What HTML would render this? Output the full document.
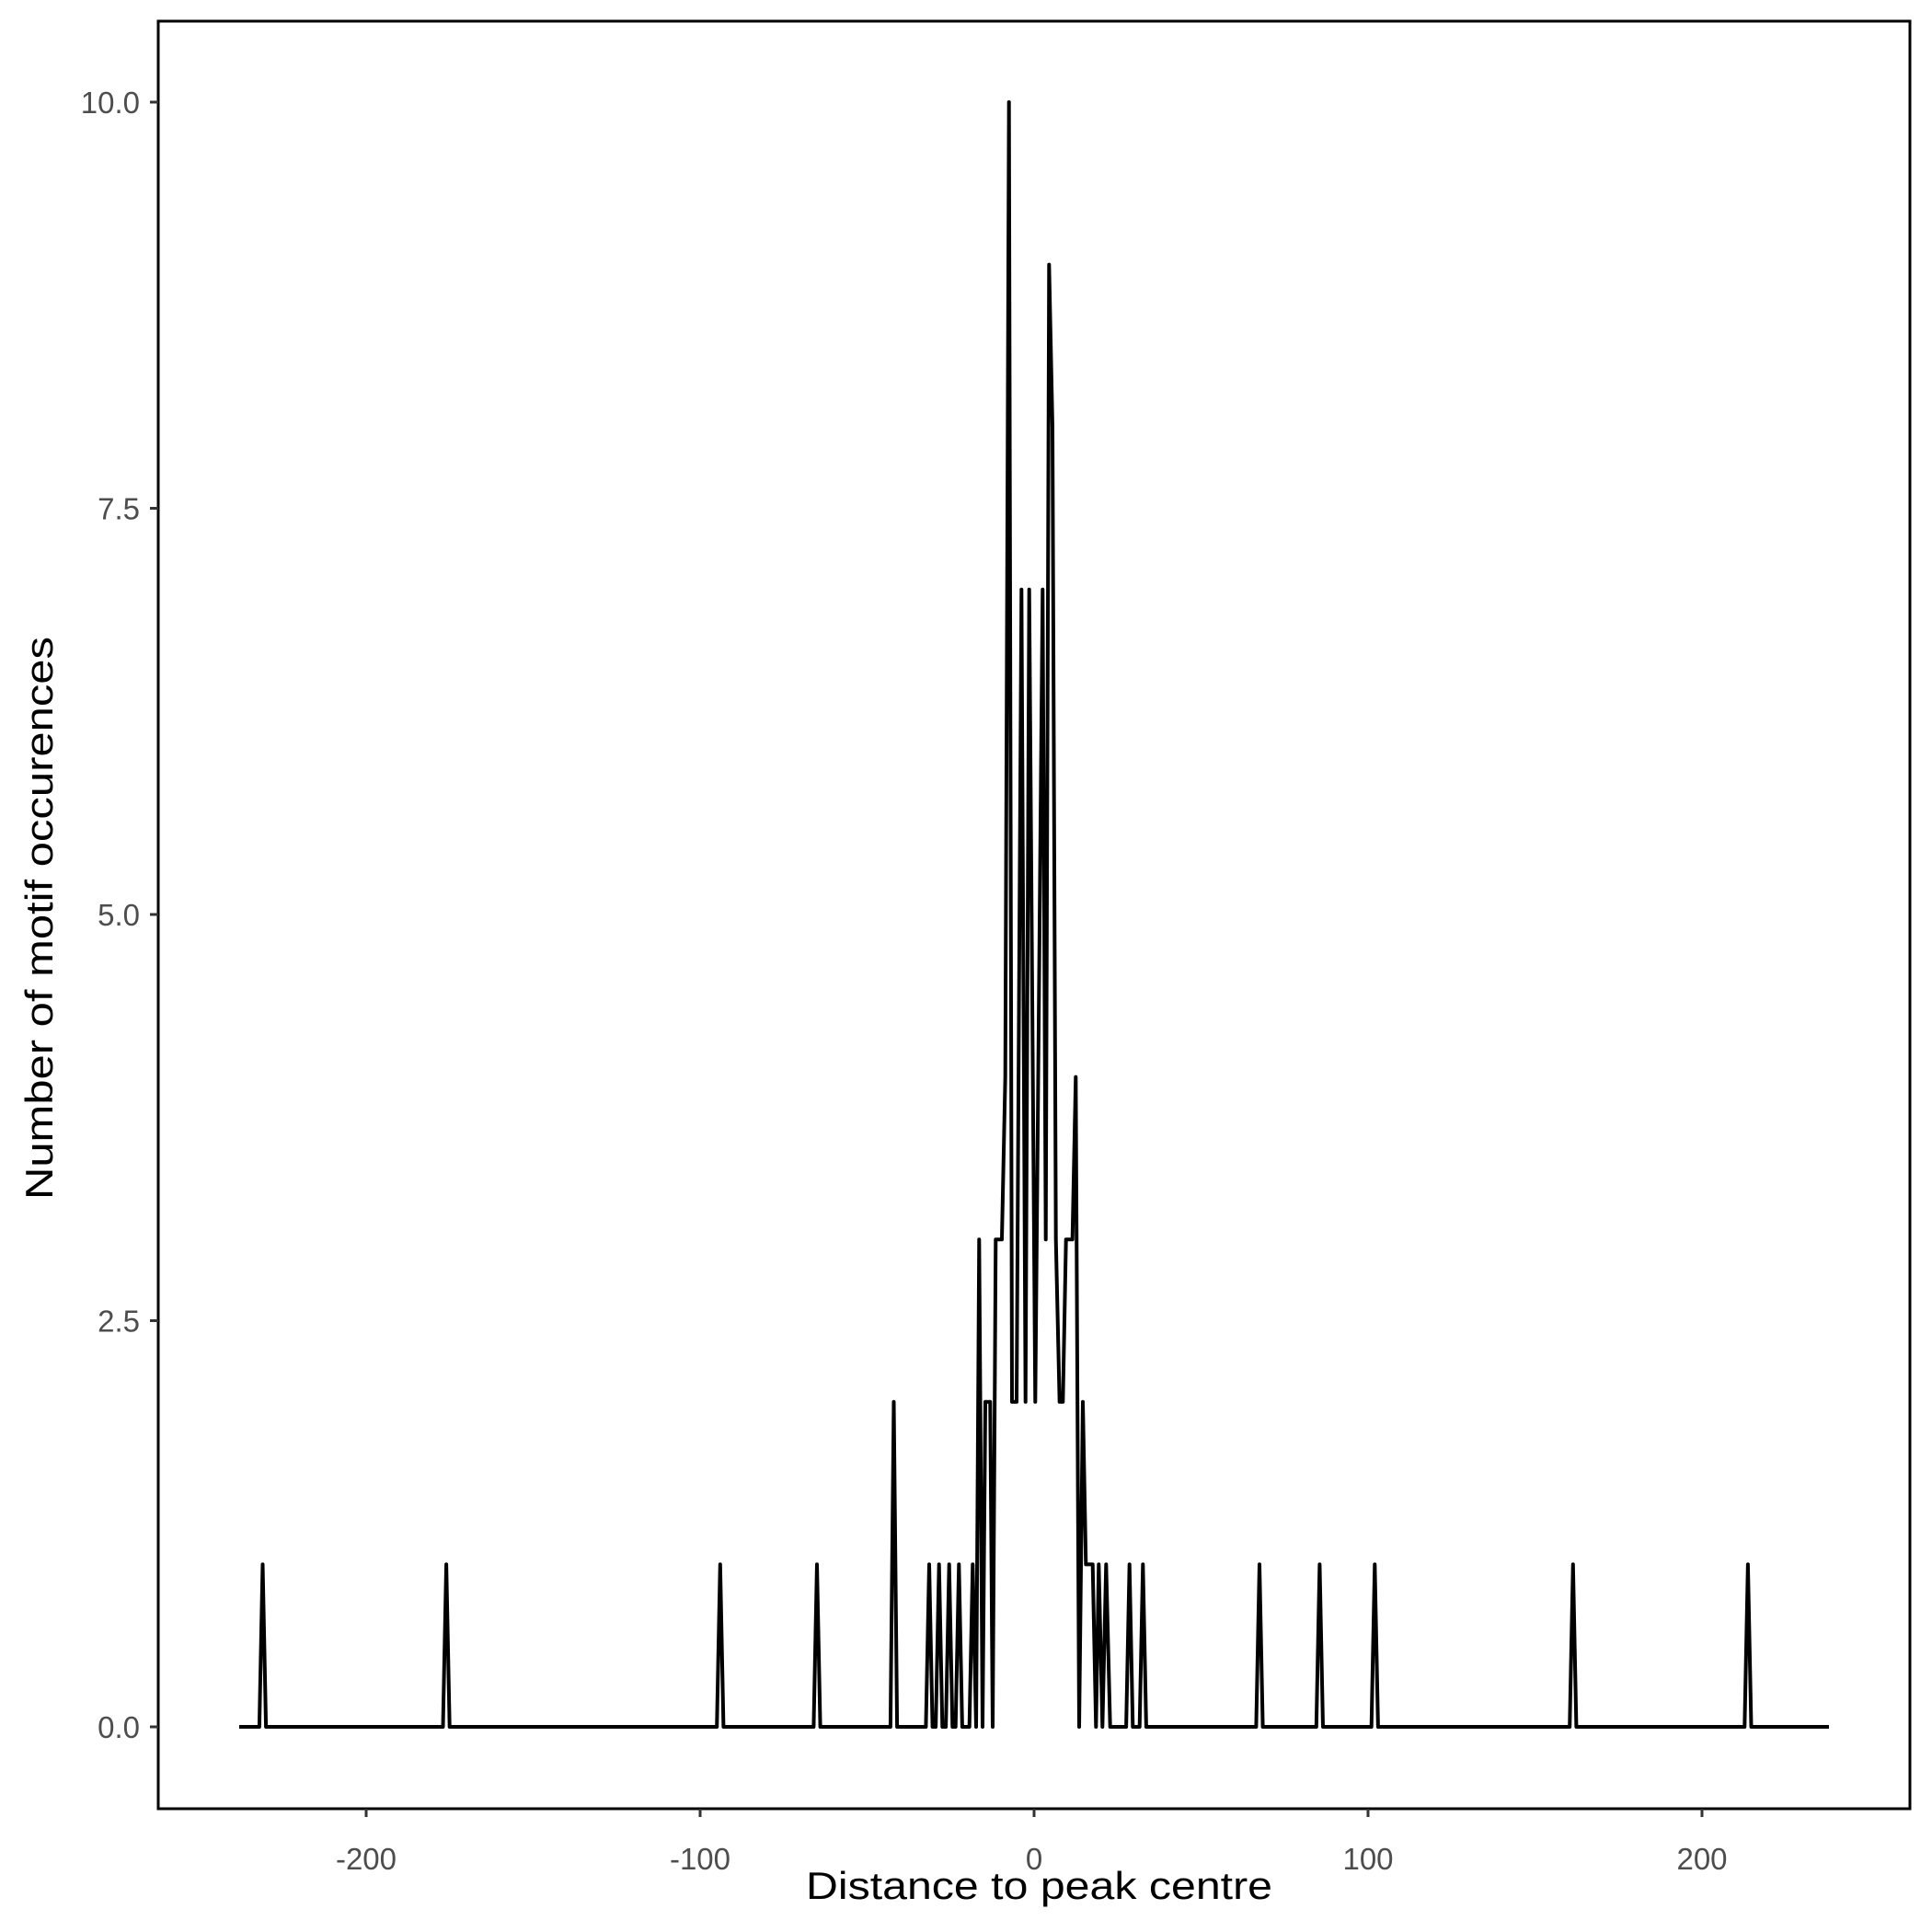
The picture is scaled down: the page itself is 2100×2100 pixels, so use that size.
<!DOCTYPE html>
<html><head><meta charset="utf-8"><style>html,body{margin:0;padding:0;background:#fff}svg{display:block}</style></head>
<body>
<svg width="2100" height="2100" viewBox="0 0 2100 2100" xmlns="http://www.w3.org/2000/svg">
<rect width="2100" height="2100" fill="#fff"/>
<rect x="172" y="23" width="1904" height="1943" fill="none" stroke="#000" stroke-width="3"/>
<g stroke="#333" stroke-width="3">
<line x1="163" y1="1877" x2="172" y2="1877"/>
<line x1="163" y1="1435.5" x2="172" y2="1435.5"/>
<line x1="163" y1="994" x2="172" y2="994"/>
<line x1="163" y1="552.5" x2="172" y2="552.5"/>
<line x1="163" y1="111" x2="172" y2="111"/>
<line x1="398" y1="1966" x2="398" y2="1975"/>
<line x1="761" y1="1966" x2="761" y2="1975"/>
<line x1="1124" y1="1966" x2="1124" y2="1975"/>
<line x1="1487" y1="1966" x2="1487" y2="1975"/>
<line x1="1850" y1="1966" x2="1850" y2="1975"/>
</g>
<g font-family="Liberation Sans, sans-serif" font-size="33" fill="#4d4d4d" text-anchor="end">
<text x="152" y="1889">0.0</text>
<text x="152" y="1447.5">2.5</text>
<text x="152" y="1006">5.0</text>
<text x="152" y="564.5">7.5</text>
<text x="152" y="123">10.0</text>
</g>
<g font-family="Liberation Sans, sans-serif" font-size="33" fill="#4d4d4d" text-anchor="middle">
<text x="398" y="2032">-200</text>
<text x="761" y="2032">-100</text>
<text x="1124" y="2032">0</text>
<text x="1487" y="2032">100</text>
<text x="1850" y="2032">200</text>
</g>
<text x="876" y="2064" textLength="507" lengthAdjust="spacingAndGlyphs" font-family="Liberation Sans, sans-serif" font-size="42" fill="#000">Distance to peak centre</text>
<text transform="translate(57,1304) rotate(-90)" textLength="612" lengthAdjust="spacingAndGlyphs" font-family="Liberation Sans, sans-serif" font-size="42" fill="#000">Number of motif occurences</text>
<path fill="none" stroke="#000" stroke-width="4" stroke-linejoin="round" d="M260,1877 L281.9,1877 L285.5,1700.4 L289.1,1877 L481.5,1877 L485.1,1700.4 L488.7,1877 L779.2,1877 L782.8,1700.4 L786.4,1877 L884.4,1877 L888,1700.4 L891.6,1877 L967.9,1877 L971.5,1523.8 L975.1,1877 L1006.4,1877 L1010,1700.4 L1013.6,1877 L1017.1,1877 L1020.7,1700.4 L1024.3,1877 L1028.1,1877 L1031.7,1700.4 L1035.3,1877 L1038.7,1877 L1042.3,1700.4 L1045.9,1877 L1053.7,1877 L1057.3,1700.4 L1061,1877 L1064.3,1347.2 L1068,1877 L1071,1523.8 L1076.3,1523.8 L1079,1877 L1082.3,1347.2 L1089,1347.2 L1092.7,1170.6 L1096.7,111 L1100,1523.8 L1105,1523.8 L1110.3,640.8 L1114.7,1523.8 L1118.7,640.8 L1125.3,1523.8 L1133.3,640.8 L1136.7,1347.2 L1140.3,287.6 L1144,464.2 L1147.7,1347.2 L1151.7,1523.8 L1155.3,1523.8 L1158.7,1347.2 L1165.7,1347.2 L1169.3,1170.6 L1173,1877 L1177,1523.8 L1180.3,1700.4 L1187.7,1700.4 L1191.3,1877 L1194.3,1700.4 L1198.3,1877 L1202.3,1700.4 L1206.7,1877 L1224.1,1877 L1227.7,1700.4 L1231.3,1877 L1238.7,1877 L1242.3,1700.4 L1245.9,1877 L1365.4,1877 L1369,1700.4 L1372.6,1877 L1430.8,1877 L1434.4,1700.4 L1438,1877 L1490.7,1877 L1494.3,1700.4 L1497.9,1877 L1706.2,1877 L1709.8,1700.4 L1713.4,1877 L1896.3,1877 L1899.9,1700.4 L1903.5,1877 L1988,1877"/>
</svg>
</body></html>
